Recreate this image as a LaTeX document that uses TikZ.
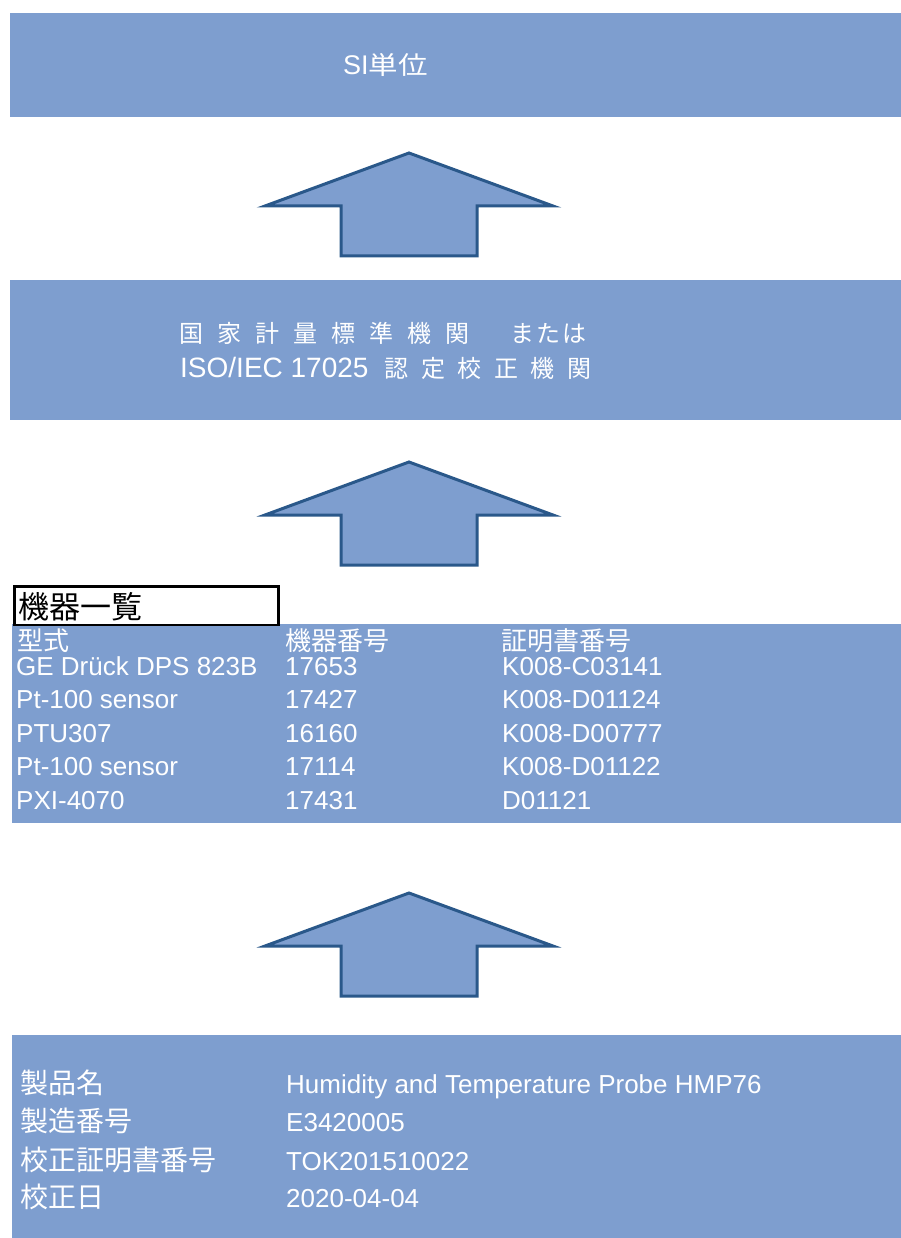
\documentclass[tikz,border=0pt]{standalone}
\usepackage{fontspec}
\setmainfont{Liberation Sans}
\newfontfamily\cjk{Noto Sans CJK JP}
\newfontfamily\cjkw[FakeStretch=1.18]{Noto Sans CJK JP}
\definecolor{boxblue}{RGB}{126,158,207}
\definecolor{arrowblue}{RGB}{42,88,138}
\newcommand{\fsz}[1]{\fontsize{#1}{#1}\selectfont}
\newcommand{\gA}{\hspace{14pt}}
\newcommand{\gB}{\hspace{12.5pt}}
\tikzset{
  bluebox/.style={fill=boxblue, draw=none, anchor=north west, inner sep=0pt},
  blockarrow/.style={fill=boxblue, draw=arrowblue, line width=3pt, line join=miter},
  wtxt/.style={text=white, inner sep=0pt, anchor=base west},
  tabl/.style={wtxt, font=\fsz{26}},
  tabh/.style={wtxt, font=\cjk\fsz{26}},
  botl/.style={wtxt, font=\cjk\fsz{28}},
  botv/.style={wtxt, font=\fsz{26}},
  uparrow/.pic={\draw[blockarrow] (0,0) -- (144,53) -- (68,53) -- (68,103) -- (-68,103) -- (-68,53) -- (-144,53) -- cycle;}
}
\begin{document}
\begin{tikzpicture}[x=1pt,y=-1pt]
\useasboundingbox (0,0) rectangle (901,1238);
\fill[white] (0,0) rectangle (901,1238);
% boxes
\node[bluebox, minimum width=891pt, minimum height=104pt] (si) at (10,13) {};
\node[bluebox, minimum width=891pt, minimum height=140pt] (nmi) at (10,280) {};
\node[bluebox, minimum width=889pt, minimum height=199pt] (tab) at (12,624) {};
\node[bluebox, minimum width=889pt, minimum height=203pt] (prod) at (12,1035) {};
\node[draw=black, line width=2.5pt, fill=white, anchor=north west, inner sep=0pt, minimum width=264pt, minimum height=38.5pt] (title) at (13,585.25) {};
% arrows
\pic at (409,153) {uparrow};
\pic at (409,462) {uparrow};
\pic at (409,893) {uparrow};
% box 1 text
\node[wtxt] (sitxt) at (343,75) {\fsz{27}SI{\cjkw\fsz{25}単位}};
% box 2 text
\node[wtxt] (nmi1) at (179,342) {\cjk\fsz{24}国\gA 家\gA 計\gA 量\gA 標\gA 準\gA 機\gA 関\hspace{41pt}ま\hspace{2pt}た\hspace{2pt}は};
\node[wtxt] (nmi2) at (180,377) {\fsz{28}ISO/IEC 17025\hspace{16pt}{\cjk\fsz{24}認\gB 定\gB 校\gB 正\gB 機\gB 関}};
% title
\node[inner sep=0pt, anchor=base west, text=black, font=\cjk\fsz{31}] (titletxt) at (18,618) {機器一覧};
% table
\node[tabh] (h1) at (17,650) {型式};
\node[tabh] (h2) at (285,650) {機器番号};
\node[tabh] (h3) at (501,650) {証明書番号};
\node[tabl] (r1a) at (16,675) {GE Drück DPS 823B};
\node[tabl] (r1b) at (285,675) {17653};
\node[tabl] (r1c) at (502,675) {K008-C03141};
\node[tabl] (r2a) at (16,708.5) {Pt-100 sensor};
\node[tabl] (r2b) at (285,708.5) {17427};
\node[tabl] (r2c) at (502,708.5) {K008-D01124};
\node[tabl] (r3a) at (16,742) {PTU307};
\node[tabl] (r3b) at (285,742) {16160};
\node[tabl] (r3c) at (502,742) {K008-D00777};
\node[tabl] (r4a) at (16,775.5) {Pt-100 sensor};
\node[tabl] (r4b) at (285,775.5) {17114};
\node[tabl] (r4c) at (502,775.5) {K008-D01122};
\node[tabl] (r5a) at (16,809) {PXI-4070};
\node[tabl] (r5b) at (285,809) {17431};
\node[tabl] (r5c) at (502,809) {D01121};
% product box
\node[botl] (p1a) at (20,1093) {製品名};
\node[botv] (p1b) at (286,1093) {Humidity and Temperature Probe HMP76};
\node[botl] (p2a) at (20,1131) {製造番号};
\node[botv] (p2b) at (286,1131) {E3420005};
\node[botl] (p3a) at (20,1170) {校正証明書番号};
\node[botv] (p3b) at (286,1170) {TOK201510022};
\node[botl] (p4a) at (20,1207) {校正日};
\node[botv] (p4b) at (286,1207) {2020-04-04};
\end{tikzpicture}
\end{document}
